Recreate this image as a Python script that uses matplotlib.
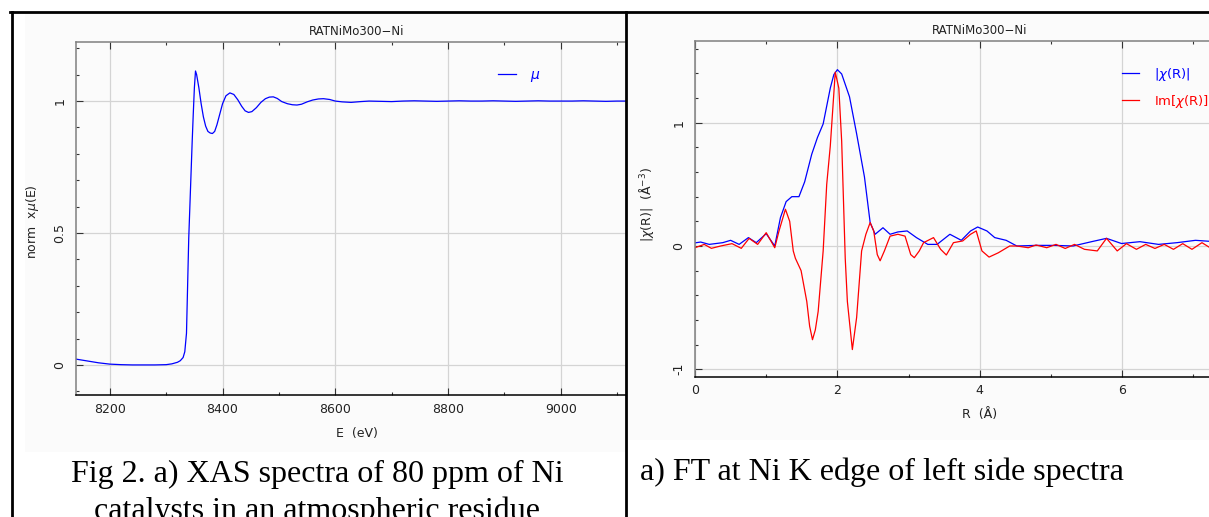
import matplotlib
matplotlib.use("Agg")
import matplotlib.pyplot as plt
from matplotlib.patches import Rectangle
from matplotlib.lines import Line2D
from matplotlib.ticker import MultipleLocator, FuncFormatter

# --- left panel: normalised XANES/EXAFS mu(E) ---
energy = [8140, 8160, 8180, 8200, 8220, 8240, 8260, 8280, 8300, 8310, 8320, 8325,
          8330, 8333, 8336, 8338, 8340, 8342, 8344, 8346, 8348, 8350, 8352, 8354,
          8358, 8362, 8366, 8370, 8374, 8378, 8382, 8386, 8390, 8395, 8400, 8406,
          8413, 8420, 8427, 8434, 8440, 8446, 8452, 8460, 8468, 8476, 8483, 8490,
          8497, 8505, 8515, 8524, 8532, 8540, 8550, 8560, 8570, 8579, 8590, 8600,
          8612, 8628, 8645, 8660, 8680, 8700, 8720, 8740, 8760, 8780, 8800, 8820,
          8840, 8860, 8880, 8900, 8920, 8940, 8960, 8980, 9000, 9020, 9040, 9060,
          9080, 9100, 9120, 9140]
mu = [0.022, 0.015, 0.008, 0.003, 0.001, 0.0, 0.0, 0.0, 0.001, 0.004, 0.010, 0.016,
      0.028, 0.05, 0.12, 0.30, 0.48, 0.60, 0.72, 0.84, 0.95, 1.05, 1.114, 1.10,
      1.05, 0.99, 0.94, 0.905, 0.885, 0.879, 0.877, 0.885, 0.91, 0.95, 0.99, 1.02,
      1.031, 1.025, 1.005, 0.98, 0.963, 0.957, 0.96, 0.975, 0.995, 1.009, 1.015, 1.016,
      1.01, 0.998, 0.99, 0.986, 0.985, 0.988, 0.997, 1.004, 1.008, 1.009, 1.006, 1.0,
      0.997, 0.995, 0.998, 1.0, 0.999, 0.998, 1.0, 1.001, 1.0, 0.999, 1.0, 1.001,
      1.0, 1.0, 1.001, 1.0, 0.999, 1.0, 1.001, 1.0, 1.0, 1.0, 1.001, 1.0,
      0.999, 1.0, 1.0, 1.0]

# --- right panel: Fourier transform, magnitude ---
r_mag = [0.0, 0.02, 0.08, 0.2, 0.39, 0.5, 0.62, 0.75, 0.86, 1.0, 1.12, 1.2, 1.28,
         1.36, 1.46, 1.54, 1.64, 1.72, 1.8, 1.9, 1.95, 2.0, 2.06, 2.17, 2.27, 2.38,
         2.46, 2.53, 2.64, 2.74, 2.85, 2.98, 3.11, 3.27, 3.4, 3.58, 3.74, 3.87, 3.97,
         4.1, 4.21, 4.37, 4.52, 4.79, 5.05, 5.31, 5.57, 5.78, 5.99, 6.25, 6.51, 6.77,
         7.03, 7.3]
chi_mag = [0.025, 0.027, 0.032, 0.013, 0.027, 0.046, 0.013, 0.068, 0.027, 0.10, 0.0,
           0.23, 0.36, 0.40, 0.40, 0.52, 0.745, 0.88, 0.99, 1.28, 1.39, 1.43, 1.395,
           1.21, 0.91, 0.56, 0.19, 0.095, 0.148, 0.095, 0.114, 0.122, 0.068, 0.013,
           0.013, 0.095, 0.046, 0.122, 0.154, 0.122, 0.068, 0.046, 0.0, 0.005, 0.005,
           0.0, 0.035, 0.062, 0.02, 0.035, 0.013, 0.027, 0.046, 0.035]

# --- right panel: Fourier transform, imaginary part ---
r_im = [0.0, 0.13, 0.23, 0.36, 0.52, 0.65, 0.76, 0.88, 1.0, 1.12, 1.18, 1.27, 1.33,
        1.38, 1.41, 1.49, 1.57, 1.61, 1.65, 1.69, 1.73, 1.8, 1.85, 1.9, 1.97, 2.02,
        2.06, 2.11, 2.14, 2.21, 2.27, 2.34, 2.4, 2.46, 2.51, 2.56, 2.6, 2.66, 2.74,
        2.85, 2.95, 3.03, 3.08, 3.15, 3.21, 3.35, 3.45, 3.53, 3.63, 3.76, 3.87, 3.95,
        4.03, 4.13, 4.26, 4.42, 4.52, 4.68, 4.79, 4.94, 5.07, 5.2, 5.33, 5.47, 5.65,
        5.78, 5.93, 6.06, 6.2, 6.33, 6.46, 6.59, 6.72, 6.85, 6.98, 7.12, 7.25]
chi_im = [-0.014, 0.013, -0.019, 0.0, 0.019, -0.019, 0.062, 0.013, 0.108, -0.014,
          0.122, 0.298, 0.2, -0.04, -0.1, -0.2, -0.45, -0.65, -0.76, -0.68, -0.53,
          -0.04, 0.5, 0.81, 1.41, 1.28, 0.85, -0.1, -0.45, -0.84, -0.58, -0.04, 0.095,
          0.19, 0.122, -0.07, -0.12, -0.04, 0.08, 0.095, 0.08, -0.07, -0.095, -0.04,
          0.027, 0.068, -0.027, -0.073, 0.027, 0.041, 0.095, 0.122, -0.04, -0.09,
          -0.055, 0.0, 0.0, -0.014, 0.008, -0.014, 0.013, -0.02, 0.013, -0.027, -0.04,
          0.062, -0.04, 0.019, -0.027, 0.013, -0.02, 0.013, -0.027, 0.019, -0.027,
          0.027, -0.02]

r_ticks = [0, 2, 4, 6, 8]
r_ticklabels = ["0", "2", "4", "6", ""]   # 8 falls outside the scanned cell

W, H = 1209, 517
BG = "#fbfbfb"
TXT = "#222222"

fig = plt.figure(figsize=(W / 100, H / 100), dpi=100)
fig.patch.set_facecolor("white")


def frac(x0, y0, x1, y1):
    # pixel box (top-left origin) -> figure fraction [l, b, w, h]
    return [x0 / W, 1 - y1 / H, (x1 - x0) / W, (y1 - y0) / H]


def rect(x0, y0, x1, y1, color, z):
    l, b, w, h = frac(x0, y0, x1, y1)
    fig.add_artist(Rectangle((l, b), w, h, transform=fig.transFigure,
                             facecolor=color, edgecolor="none", zorder=z))


def style_axes(ax):
    ax.set_facecolor(BG)
    ax.grid(True, which="major", color="#d4d4d4", linewidth=0.9)
    ax.set_axisbelow(True)
    ax.tick_params(which="both", direction="in", top=True, right=True,
                   labelsize=9, labelcolor=TXT, color="#333333")
    ax.tick_params(which="major", length=5, width=0.8)
    ax.tick_params(which="minor", length=2.5, width=0.8)
    ax.tick_params(axis="x", pad=5.5)
    ax.tick_params(axis="y", pad=7)
    ax.spines["left"].set_color("#808080")
    ax.spines["top"].set_color("#808080")
    ax.spines["bottom"].set_color("black")
    for s in ax.spines.values():
        s.set_linewidth(1.1)
    ax.yaxis.set_major_formatter(FuncFormatter(lambda v, p: "{:g}".format(v)))


# plot image background (left cell)
rect(25, 13, 625, 452, BG, -1)

# ---------------- left panel ----------------
ax1 = fig.add_axes(frac(76, 41.7, 638, 395), zorder=0)
ax1.plot(energy, mu, color="#0000ff", linewidth=0.9, label=r"$\mu$")
ax1.set_xlim(8140, 9137)
ax1.set_ylim(-0.114, 1.225)
ax1.xaxis.set_major_locator(MultipleLocator(200))
ax1.xaxis.set_minor_locator(MultipleLocator(100))
ax1.yaxis.set_major_locator(MultipleLocator(0.5))
ax1.yaxis.set_minor_locator(MultipleLocator(0.1))
style_axes(ax1)
plt.setp(ax1.get_yticklabels(), rotation=90, va="center")
ax1.set_title("RATNiMo300\u2212Ni", fontsize=8.5, color=TXT, pad=5)
ax1.set_xlabel("E  (eV)", fontsize=9, color=TXT, labelpad=8)
ax1.set_ylabel(r"norm  x$\mu$(E)", fontsize=9, color=TXT)
ax1.yaxis.set_label_coords(-0.063, 0.49)
ax1.legend(loc="upper left", bbox_to_anchor=(498 / W, 1 - 68 / H),
           bbox_transform=fig.transFigure, frameon=False, fontsize=10,
           handlelength=1.3, handletextpad=1.0, borderpad=0, borderaxespad=0,
           labelcolor="linecolor")

# the right cell covers the overflow of the left plot
rect(627, 13, W, H, "white", 1)
rect(628, 13, W, 440, BG, 1)

# ---------------- right panel ----------------
ax2 = fig.add_axes(frac(695, 41.3, 695 + 8 * 71.2, 376.7), zorder=2)
ax2.plot(r_mag, chi_mag, color="#0000ff", linewidth=0.9, label=r"|$\chi$(R)|")
ax2.plot(r_im, chi_im, color="#ff0000", linewidth=0.9, label=r"Im[$\chi$(R)]")
ax2.set_xlim(0, 8)
ax2.set_ylim(-1.06, 1.66)
ax2.set_xticks(r_ticks, r_ticklabels)
ax2.xaxis.set_minor_locator(MultipleLocator(1))
ax2.yaxis.set_major_locator(MultipleLocator(1))
ax2.yaxis.set_minor_locator(MultipleLocator(0.2))
style_axes(ax2)
plt.setp(ax2.get_yticklabels(), rotation=90, va="center")
ax2.set_title("RATNiMo300\u2212Ni", fontsize=8.5, color=TXT, pad=5)
ax2.set_xlabel("R  (\u00c5)", fontsize=9, color=TXT, labelpad=8)
ax2.set_ylabel(r"|$\chi$(R)|  ($\mathrm{\AA}^{-3}$)", fontsize=9, color=TXT)
ax2.yaxis.set_label_coords(-0.068, 0.512)
ax2.legend(loc="upper left", bbox_to_anchor=(1122 / W, 1 - 66 / H),
           bbox_transform=fig.transFigure, frameon=False, fontsize=9.5,
           handlelength=1.3, handletextpad=1.1, borderpad=0, borderaxespad=0,
           labelspacing=0.75, labelcolor="linecolor")

# table borders
bw = 2.0
fig.add_artist(Line2D([10 / W, 1], [1 - 12 / H, 1 - 12 / H], transform=fig.transFigure,
                      color="black", linewidth=bw, zorder=5))
fig.add_artist(Line2D([11.5 / W, 11.5 / W], [0, 1 - 12 / H], transform=fig.transFigure,
                      color="black", linewidth=bw, zorder=5))
fig.add_artist(Line2D([626 / W, 626 / W], [0, 1 - 12 / H], transform=fig.transFigure,
                      color="black", linewidth=bw, zorder=5))

# captions (second line is cut by the page edge, as in the scan)
cap = dict(family="Liberation Serif", fontsize=23, color="black", zorder=5)
fig.text(317 / W, 1 - 482 / H, "Fig 2. a) XAS spectra of 80 ppm of Ni",
         ha="center", va="baseline", **cap)
fig.text(317 / W, 1 - 519 / H, "catalysts in an atmospheric residue",
         ha="center", va="baseline", **cap)
fig.text(640 / W, 1 - 480 / H, "a) FT at Ni K edge of left side spectra",
         ha="left", va="baseline", **cap)

fig.savefig("out.png", dpi=100, facecolor="white")
